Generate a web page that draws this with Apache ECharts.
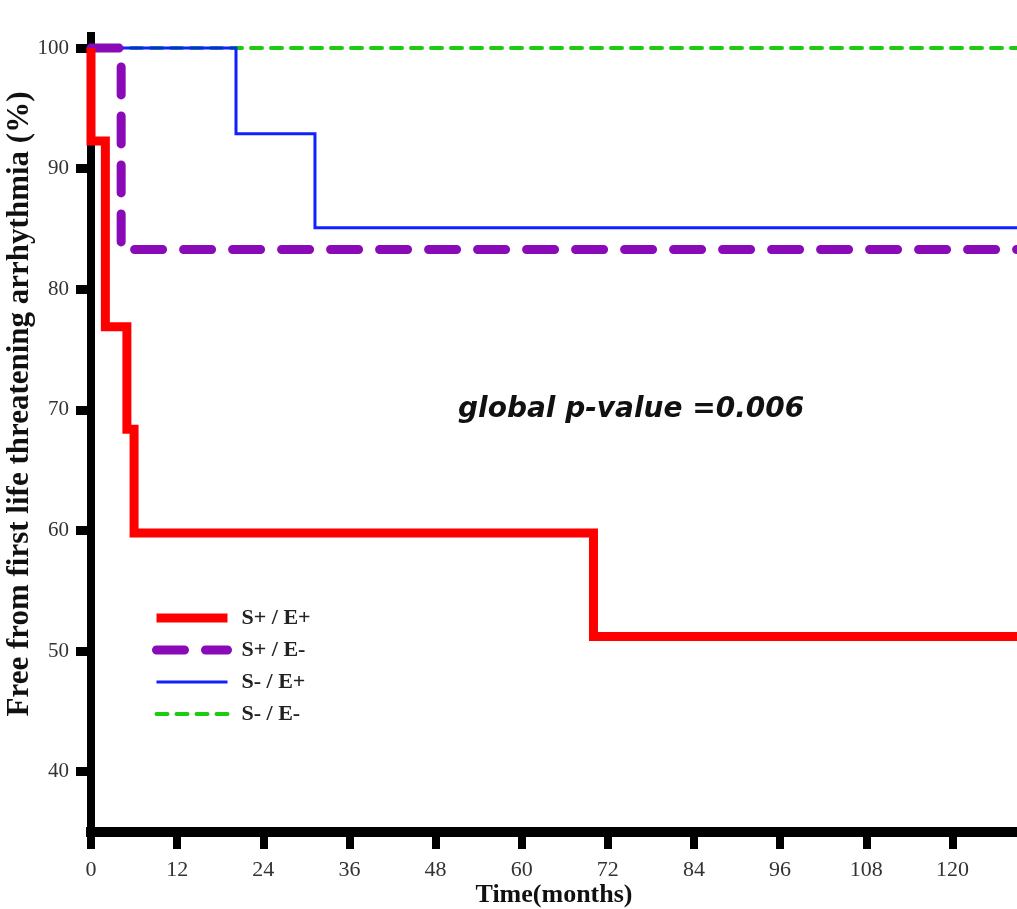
<!DOCTYPE html>
<html>
<head>
<meta charset="utf-8">
<script src="https://cdn.jsdelivr.net/npm/echarts@6/dist/echarts.min.js"></script>
<style>
  html, body { margin: 0; padding: 0; background: #fff; }
  #chart { width: 1017px; height: 909px; }
</style>
</head>
<body>
<div id="chart"></div>
<script>
// Kaplan-Meier step data (time in months, survival in %)
var redTimes = [0, 0, 2, 5, 6, 70, 129]
var redValues = [100, 92.3, 76.9, 68.4, 59.8, 51.2, 51.2]
var purpleTimes = [0, 4.2, 129]
var purpleValues = [100, 83.3, 83.3]
var blueTimes = [0, 20.2, 31.2, 129]
var blueValues = [100, 92.9, 85.1, 85.1]
var greenTimes = [0, 129]
var greenValues = [100, 100]

var xTicks = [0, 12, 24, 36, 48, 60, 72, 84, 96, 108, 120]
var yTicks = [40, 50, 60, 70, 80, 90, 100]
var legendNames = ['S+ / E+', 'S+ / E-', 'S- / E+', 'S- / E-']

function pairs(xs, ys) {
  return xs.map(function(x, i) { return [x, ys[i]] })
}

var styles = {
  'S+ / E+': { color: '#ff0000', width: 9, type: 'solid', cap: 'butt', join: 'miter' },
  'S+ / E-': { color: '#8a0ab8', width: 9, type: [28, 21], cap: 'round', join: 'miter' },
  'S- / E+': { color: '#1020ff', width: 3, type: 'solid', cap: 'butt', join: 'miter' },
  'S- / E-': { color: '#1ccc10', width: 4, type: [11, 9], cap: 'round', join: 'miter' }
}

function makeSeries(name, xs, ys) {
  return {
    name: name,
    type: 'line',
    step: 'end',
    symbol: 'none',
    clip: false,
    lineStyle: styles[name],
    itemStyle: { color: styles[name].color },
    data: pairs(xs, ys)
  }
}

var chart = echarts.init(document.getElementById('chart'))
var serif = '"Liberation Serif", "Times New Roman", serif'

chart.setOption({
  animation: false,
  grid: {
    left: 91,
    right: 0,
    top: 36,
    bottom: 909 - 832,
    outerBoundsMode: 'none',
    containLabel: false
  },
  legend: {
    left: 147,
    top: 602,
    orient: 'vertical',
    itemWidth: 71,
    itemHeight: 16,
    itemGap: 10,
    itemStyle: { opacity: 0 },
    data: legendNames.map(function(n) {
      return { name: n, lineStyle: styles[n] }
    }),
    textStyle: {
      fontFamily: serif,
      fontWeight: 'bold',
      fontSize: 22,
      color: '#222',
      padding: [0, 0, 0, 9]
    }
  },
  graphic: [{
    type: 'text',
    left: 458,
    top: 396,
    style: {
      text: 'global p-value =0.006',
      font: 'italic bold 28px "DejaVu Sans", sans-serif',
      fill: '#111'
    }
  }],
  xAxis: {
    type: 'value',
    min: 0,
    max: 129,
    name: 'Time(months)',
    nameLocation: 'middle',
    nameGap: 50,
    nameMoveOverlap: false,
    nameTextStyle: {
      fontFamily: serif,
      fontWeight: 'bold',
      fontSize: 26,
      color: '#111'
    },
    axisLine: {
      lineStyle: { color: '#000', width: 10, cap: 'square' }
    },
    axisTick: {
      customValues: xTicks,
      length: 17,
      lineStyle: { color: '#000', width: 8 }
    },
    axisLabel: {
      customValues: xTicks,
      margin: 27,
      fontFamily: serif,
      fontSize: 22,
      color: '#333'
    },
    splitLine: { show: false }
  },
  yAxis: {
    type: 'value',
    min: 35,
    max: 101,
    name: 'Free from first life threatening arrhythmia (%)',
    nameLocation: 'middle',
    nameGap: 56,
    nameMoveOverlap: false,
    nameTextStyle: {
      fontFamily: serif,
      fontWeight: 'bold',
      fontSize: 31,
      color: '#111',
      padding: [0, 0, 0, 60]
    },
    axisLine: {
      lineStyle: { color: '#000', width: 8, cap: 'square' }
    },
    axisTick: {
      customValues: yTicks,
      length: 15,
      lineStyle: { color: '#000', width: 9 }
    },
    axisLabel: {
      customValues: yTicks,
      margin: 22,
      fontFamily: serif,
      fontSize: 21,
      color: '#333'
    },
    splitLine: { show: false }
  },
  // drawn bottom to top: green, blue, purple, red
  series: [
    makeSeries('S- / E-', greenTimes, greenValues),
    makeSeries('S- / E+', blueTimes, blueValues),
    makeSeries('S+ / E-', purpleTimes, purpleValues),
    makeSeries('S+ / E+', redTimes, redValues)
  ]
})
</script>
</body>
</html>
